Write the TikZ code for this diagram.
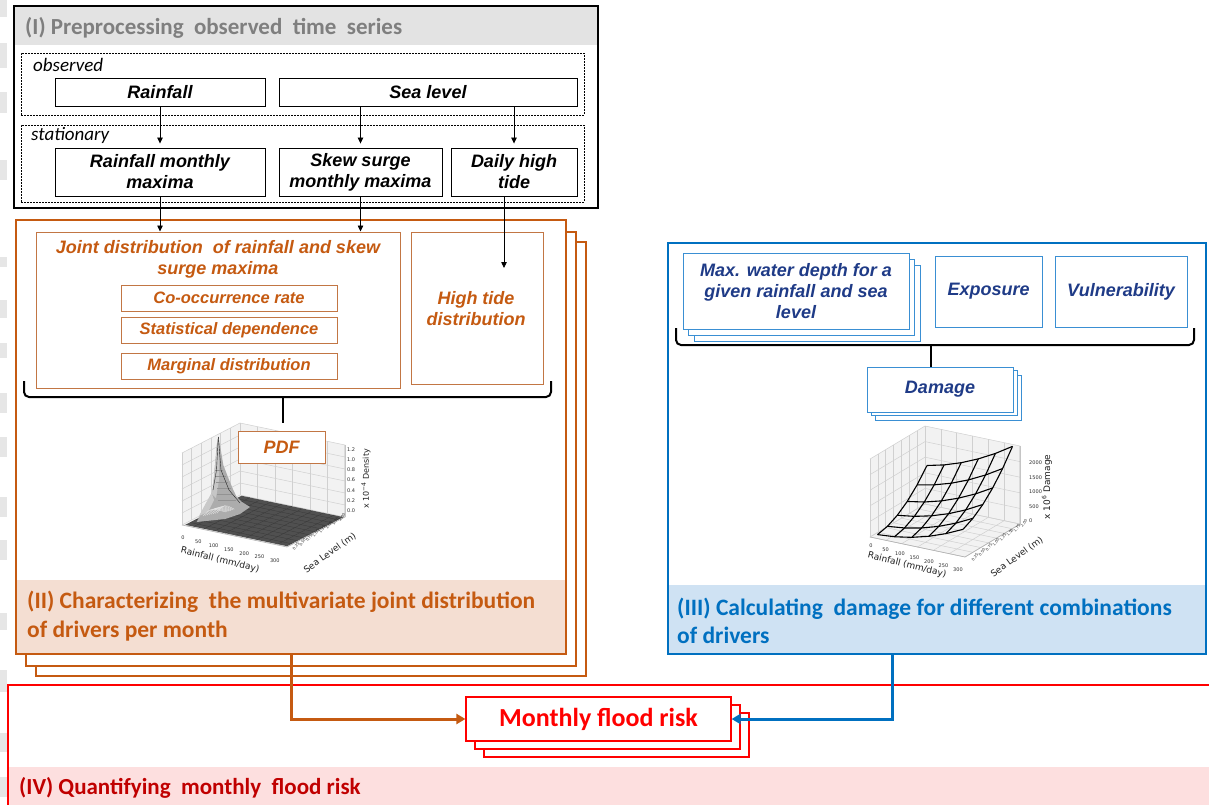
\documentclass[tikz,border=0pt]{standalone}
\usepackage{fontspec}
\setmainfont{Liberation Sans}
\newfontfamily\calfont{Carlito}
\newfontfamily\dvfont{DejaVu Sans}
\usetikzlibrary{arrows.meta,calc}
\definecolor{orgA}{HTML}{C55A11}
\definecolor{orgL}{HTML}{F4DED2}
\definecolor{orgB}{HTML}{C27644}
\definecolor{orgT}{HTML}{C55A11}
\definecolor{bluA}{HTML}{0070C0}
\definecolor{bluL}{HTML}{CFE2F3}
\definecolor{bluB}{HTML}{3A8FD3}
\definecolor{bluT}{HTML}{1F3B87}
\definecolor{redA}{HTML}{FF0000}
\definecolor{redL}{HTML}{FDDFDF}
\definecolor{redT}{HTML}{C00000}
\definecolor{grayT}{HTML}{7F7F7F}
\definecolor{grayL}{HTML}{E3E3E3}
\definecolor{stripeC}{HTML}{E6E6E6}
\definecolor{paneC}{HTML}{F2F2F2}
\definecolor{gridC}{HTML}{D0D0D0}
\definecolor{surfC}{HTML}{505050}
\tikzset{
  lab/.style={font=\fontsize{18}{21}\selectfont\bfseries\itshape, align=center, inner sep=0pt},
  labs/.style={font=\fontsize{16.5}{20}\selectfont\bfseries\itshape, align=center, inner sep=0pt},
  kbox/.style={draw=black, line width=0.9pt, fill=white, lab},
  dbox/.style={draw=black, line width=0.6pt, dash pattern=on 1.8pt off 1.2pt, inner sep=0pt},
  obox/.style={draw=orgB, line width=1pt, fill=white, text=orgT, inner sep=0pt},
  bbox/.style={draw=bluB, line width=1pt, fill=white, text=bluT, lab},
  rbox/.style={draw=redA, line width=1.2pt, fill=white, text=redA, inner sep=0pt,
     font=\calfont\fontsize{26}{30}\selectfont\bfseries, minimum width=265pt, minimum height=44pt},
  secI/.style={draw=black, line width=2.8pt, inner sep=0pt},
  secO/.style={draw=orgA, line width=2.6pt, fill=white, inner sep=0pt, minimum width=550pt, minimum height=434pt},
  secB/.style={draw=bluA, line width=2.6pt, fill=white, inner sep=0pt},
  secR/.style={draw=redA, line width=2.6pt, fill=white, inner sep=0pt},
  sectitle/.style={font=\calfont\fontsize{23}{29}\selectfont\bfseries, anchor=west, align=left, inner sep=0pt},
  arr/.style={draw=black, line width=0.8pt, -{Triangle[length=6pt,width=5.5pt]}},
  conn/.style={line width=3pt, -{Triangle[length=9pt,width=10pt]}},
  brc/.style={draw=black, line width=2pt, rounded corners=5pt},
  grd/.style={draw=gridC, line width=0.5pt},
  tkl/.style={font=\dvfont\fontsize{5}{6}\selectfont, text=gray!35!black, inner sep=0pt},
  tks/.style={font=\dvfont\fontsize{3.8}{4}\selectfont, text=gray!35!black, inner sep=0pt},
  axl/.style={font=\dvfont\fontsize{9}{10}\selectfont, text=gray!25!black, inner sep=0pt},
}
\begin{document}
\begin{tikzpicture}[x=1pt,y=-1pt]
\useasboundingbox (0,0) rectangle (1209,805);
\clip (0,0) rectangle (1209,805);
\fill[white] (0,0) rectangle (1209,805);
% stripes at the left edge
\foreach \a/\b in {0/17,43/68,92/113,160/180,257/267,300/318,343/358,393/413,437/457,497/517,540/560,613/630,670/692,733/752,777/797}
  \fill[stripeC] (0,\a) rectangle (7,\b);

% ---------------- Box II ----------------
\node[secO] (IIc) at (311,459) {};
\node[secO] (IIb) at (301,449) {};
\node[secO] (II) at (291,437) {};
\fill[orgL] (17.3,580) rectangle (564.7,652.7);
\node[sectitle, text=orgA, font=\calfont\fontsize{23.5}{29}\selectfont\bfseries] (tII) at (27,616.5) {(II) Characterizing\ \ the multivariate joint distribution\\of drivers per month};

\node[obox, minimum width=364pt, minimum height=156pt] (joint) at (218,310) {};
\node[lab, text=orgT] (jointT) at (218,259.5) {Joint distribution\ \ of rainfall and skew\\surge maxima};
\node[obox, labs, minimum width=216pt, minimum height=26pt] (co) at (229,298) {Co-occurrence rate};
\node[obox, labs, minimum width=216pt, minimum height=26pt] (sd) at (229,330) {Statistical dependence};
\node[obox, labs, minimum width=216pt, minimum height=26pt] (md) at (229,366) {Marginal distribution};
\node[obox, minimum width=132pt, minimum height=152pt] (ht) at (477,308) {};
\node[lab, text=orgT] (htT) at (476,308.5) {High tide\\distribution};
\draw[brc] (24,381) -- (24,397) -- (551,397) -- (551,381);
\draw[brc] (283,397) -- (283,423);

% ---- PDF plot ----
\begin{scope}[shift={(182,525)}, x={(105pt,-22pt)}, y={(58pt,30pt)}, z={(0pt,72pt)}]
  \fill[paneC] (0,0,0) -- (0,1,0) -- (0,1,1) -- (0,0,1) -- cycle;
  \fill[paneC] (0,1,0) -- (1,1,0) -- (1,1,1) -- (0,1,1) -- cycle;
  \fill[paneC] (0,0,0) -- (1,0,0) -- (1,1,0) -- (0,1,0) -- cycle;
  \foreach \k in {0,1,...,6}{
    \draw[grd] (0,{\k/6},0) -- (0,{\k/6},1);
    \draw[grd] ({\k/6},1,0) -- ({\k/6},1,1);
    \draw[grd] (0,0,{\k/6}) -- (0,1,{\k/6}) -- (1,1,{\k/6});
  }
  \draw[gray!60, line width=.6pt] (0,0,0) -- (1,0,0) -- (1,1,0) -- (1,1,1);
  \fill[surfC] (0.02,0.02,0) -- (0.99,0.02,0) -- (0.99,0.99,0) -- (0.02,0.99,0) -- cycle;
  \foreach \k in {1,...,9}{
    \draw[gray!45!black, line width=.3pt] ({\k/10},0.02,0) -- ({\k/10},0.99,0);
    \draw[gray!45!black, line width=.3pt] (0.02,{\k/10},0) -- (0.99,{\k/10},0);
  }
\end{scope}
% peak
\fill[gray!65] (196.7,522) -- (201.7,512) -- (206.7,503) -- (211.7,493) -- (213.3,486) -- (215,465) -- (216.7,445) -- (218.3,436.7) -- (220,445) -- (223.3,465) -- (228.3,478) -- (233.3,490) -- (236.7,497) -- (242,502) -- (250,507) -- (240,514) -- (225,519) -- cycle;
\fill[gray!45] (212,494) -- (215,465) -- (218.3,437) -- (219.3,452) -- (219,480) -- (216,498) -- cycle;
\fill[gray!42] (199,516) -- (206,503) -- (211.7,493) -- (214,500) -- (208,512) -- cycle;
\foreach \d in {0,2,...,14}
  \draw[gray!15, line width=.3pt] ({203+\d},{516-\d*0.2}) .. controls ({210+\d},{508-\d*0.3}) .. ({226+\d*0.6},{512-\d*0.2});
\foreach \d in {0,1,...,5}
  \draw[gray!85, line width=.3pt] ({215+\d*0.6},{470+\d*6}) -- ({223+\d*2.6},{470+\d*6});
\draw[gray!30!black, line width=.4pt] (218.3,437) -- (221,470) -- (229,490) -- (240,503);
\draw[gray!30!black, line width=.4pt] (218.3,437) -- (216.5,470) -- (213,490);
\foreach \t [count=\i from 0] in {0,50,100,150,200,250,300}
  \node[tkl] at ({183+15.3*\i},{538+3.8*\i}) {\t};
\node[axl, rotate=-14] (rl1) at (220,560) {Rainfall (mm/day)};
\foreach \t [count=\i from 0] in {0.25,0.50,0.75,1.00,1.25,1.50,1.75,2.00}
  \node[tks, rotate=55] at ({296+6.57*\i},{546-4.14*\i}) {\t};
\node[axl, rotate=36] (sl1) at (330,553) {Sea Level (m)};
\foreach \t [count=\i from 0] in {0.0,0.2,0.4,0.6,0.8,1.0,1.2}
  \node[tkl, anchor=west] at (347,{511-10.3*\i}) {\t};
\node[axl, rotate=90, font=\dvfont\fontsize{8}{9}\selectfont] (dl1) at (366,479) {x 10\textsuperscript{−4} Density};
\node[obox, lab, text=orgT, minimum width=87pt, minimum height=32pt] (pdf) at (281.5,447) {PDF};

% ---------------- Box I ----------------
\node[secI, minimum width=584pt, minimum height=202pt] (I) at (306,107) {};
\fill[grayL] (15.4,7.4) rectangle (596.6,45);
\node[sectitle, text=grayT] (tI) at (25,28) {(I) Preprocessing\ \ observed\ \ time\ \ series};
\node[dbox, minimum width=563pt, minimum height=62pt] (obs) at (302.5,84) {};
\node[dbox, minimum width=563pt, minimum height=77pt] (sta) at (302.5,163.5) {};
\node[font=\calfont\fontsize{19}{20}\selectfont\itshape, anchor=west, inner sep=0pt] (obsL) at (33,65) {observed};
\node[font=\calfont\fontsize{19}{20}\selectfont\itshape, anchor=west, inner sep=0pt] (staL) at (31,135) {stationary};
\node[kbox, minimum width=210pt, minimum height=28pt] (rain) at (160,92) {Rainfall};
\node[kbox, minimum width=298pt, minimum height=28pt] (sea) at (428,92) {Sea level};
\node[kbox, minimum width=210pt, minimum height=48pt] (rmm) at (160,172) {Rainfall monthly\\maxima};
\node[kbox, minimum width=163pt, minimum height=48pt] (skew) at (360.5,172) {Skew surge\\monthly maxima};
\node[kbox, minimum width=126pt, minimum height=48pt] (daily) at (514,172) {Daily high\\tide};
\draw[arr, shorten >=4pt] (rain.south) -- (rmm.north);
\draw[arr, shorten >=4pt] (sea.south -| skew.north) -- (skew.north);
\draw[arr, shorten >=4pt] (sea.south -| daily.north) -- (daily.north);
\draw[arr] (rmm.south) -- (rmm.south |- joint.north);
\draw[arr] (skew.south) -- (skew.south |- joint.north);
\coordinate (htEnd) at (504,268);
\draw[arr] ([xshift=-10pt]daily.south) -- (htEnd);

% ---------------- Box III ----------------
\node[secB, minimum width=538pt, minimum height=411pt] (III) at (937,448.5) {};
\fill[bluL] (669.3,585) rectangle (1204.7,652.7);
\node[sectitle, text=bluA, font=\calfont\fontsize{23.5}{28}\selectfont\bfseries] (tIII) at (677,621) {(III) Calculating\ \ damage for different combinations\\of drivers};
\node[bbox, minimum width=226pt, minimum height=76pt] (mw3) at (807,303) {};
\node[bbox, minimum width=226pt, minimum height=76pt] (mw2) at (801,297) {};
\node[bbox, minimum width=226pt, minimum height=76pt] (mw) at (796,291) {Max. water depth for a\\given rainfall and sea\\level};
\node[bbox, minimum width=107pt, minimum height=71pt] (exp) at (988.5,291.5) {Exposure};
\node[bbox, minimum width=132pt, minimum height=71pt] (vul) at (1121,291.5) {Vulnerability};
\draw[brc] (676,328) -- (676,345) -- (1194,345) -- (1194,328);
\draw[brc] (931,345) -- (931,370);
\node[bbox, minimum width=146pt, minimum height=45pt] (dm3) at (948,397.5) {};
\node[bbox, minimum width=146pt, minimum height=45pt] (dm2) at (944,393) {};
\node[bbox, minimum width=146pt, minimum height=45pt] (dm) at (940,389.5) {Damage};

% ---- Damage plot ----
\begin{scope}[shift={(870,537)}, x={(95pt,-20pt)}, y={(55pt,33pt)}, z={(0pt,78pt)}]
  \fill[paneC] (0,0,0) -- (0,1,0) -- (0,1,1) -- (0,0,1) -- cycle;
  \fill[paneC] (0,1,0) -- (1,1,0) -- (1,1,1) -- (0,1,1) -- cycle;
  \fill[paneC] (0,0,0) -- (1,0,0) -- (1,1,0) -- (0,1,0) -- cycle;
  \foreach \k in {0,1,...,7}{
    \draw[grd] (0,{\k/7},0) -- (0,{\k/7},1);
    \draw[grd] (0,{\k/7},0) -- (1,{\k/7},0);
  }
  \foreach \k in {0,1,...,6}{
    \draw[grd] ({\k/6},1,0) -- ({\k/6},1,1);
    \draw[grd] ({\k/6},0,0) -- ({\k/6},1,0);
  }
  \foreach \k in {0,1,...,5}
    \draw[grd] (0,0,{\k/5}) -- (0,1,{\k/5}) -- (1,1,{\k/5});
  \draw[gray!60, line width=.6pt] (0,0,0) -- (1,0,0) -- (1,1,0) -- (1,1,1);
  \foreach \v in {0.05,0.23,0.41,0.59,0.77,0.95}{
    \draw[black, line width=1.1pt, line join=round] plot[domain=0.05:0.95, samples=6, variable=\u] ({\u},{\v},{0.32*\u*\u+0.55*\v*\v+0.22*\u*\v+0.02});
    \draw[black, line width=1.1pt, line join=round] plot[domain=0.05:0.95, samples=6, variable=\u] ({\v},{\u},{0.32*\v*\v+0.55*\u*\u+0.22*\u*\v+0.02});
  }
\end{scope}
\foreach \t [count=\i from 0] in {0,50,100,150,200,250,300}
  \node[tkl] at ({871+14.5*\i},{546+4*\i}) {\t};
\node[axl, rotate=-14] (rl2) at (907,565) {Rainfall (mm/day)};
\foreach \t [count=\i from 0] in {0.25,0.50,0.75,1.00,1.25,1.50,1.75,2.00}
  \node[tks, rotate=55] at ({975+7*\i},{557-4.86*\i}) {\t};
\node[axl, rotate=36] (sl2) at (1017,557) {Sea Level (m)};
\foreach \t [count=\i from 0] in {0,500,1000,1500,2000}
  \node[tkl, anchor=west] at (1029,{521-14.5*\i}) {\t};
\node[axl, rotate=90] (dl2) at (1047,487) {x 10\textsuperscript{6} Damage};

% ---------------- Box IV ----------------
\node[secR, minimum width=1222pt, minimum height=145pt] (IV) at (619,757.5) {};
\fill[redL] (9.3,767) rectangle (1209,805);
\node[sectitle, text=redT] (tIV) at (19,788) {(IV) Quantifying\ \ monthly\ \ flood risk};
\node[rbox] (mf3) at (616.5,735) {};
\node[rbox] (mf2) at (607.5,727) {};
\node[rbox] (mf) at (598.5,719) {Monthly flood risk};

% connectors
\draw[conn, orgA] (II.south) |- (mf.west);
\draw[conn, bluA] ([xshift=-45pt]III.south) |- (mf.east);
\end{tikzpicture}
\end{document}
